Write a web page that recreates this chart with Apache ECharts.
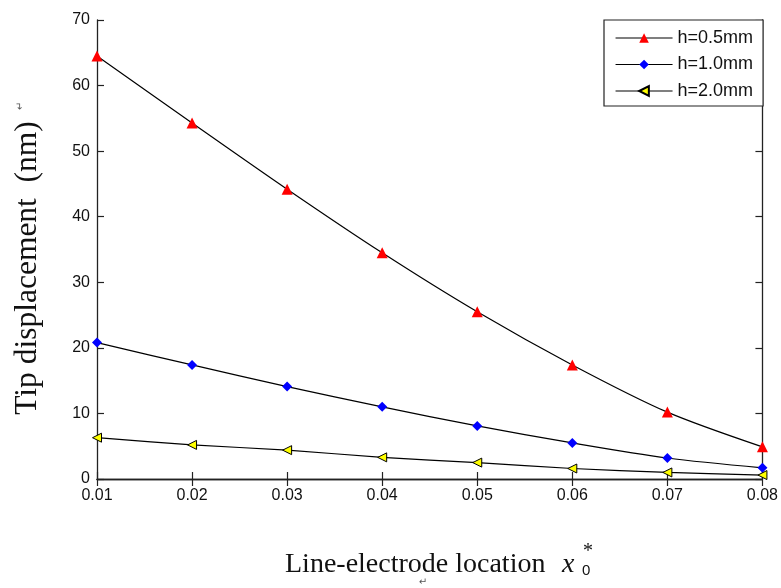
<!DOCTYPE html>
<html><head><meta charset="utf-8">
<script src="https://cdn.jsdelivr.net/npm/echarts@6/dist/echarts.min.js"></script>
<style>html,body{margin:0;padding:0;background:#fff}#c{width:781px;height:588px}</style>
</head><body><div id="c"></div>
<script>
const xValues = [0.01, 0.02, 0.03, 0.04, 0.05, 0.06, 0.07, 0.08];
const seriesNames = ['h=0.5mm', 'h=1.0mm', 'h=2.0mm'];
const h05 = [64.5, 54.3, 44.2, 34.5, 25.5, 17.4, 10.2, 4.9];
const h10 = [20.8, 17.4, 14.1, 11.0, 8.1, 5.5, 3.2, 1.7];
const h20 = [6.3, 5.2, 4.4, 3.3, 2.5, 1.6, 1.0, 0.6];
const yTitle = 'Tip displacement  (nm)';
const xTitle = 'Line-electrode location';

const pairs = arr => xValues.map((x, i) => [x, arr[i]]);
const tickFont = {fontFamily: 'Liberation Sans, Arial', fontSize: 16, color: '#111'};
const axisLine = {show: true, lineStyle: {color: '#222', width: 1.3}};
const tick = {show: true, inside: true, length: 7, lineStyle: {color: '#222', width: 1.2}};

const chart = echarts.init(document.getElementById('c'));
chart.setOption({
  animation: false,
  backgroundColor: '#fff',
  grid: {left: 97, right: 11, top: 20, bottom: 109, containLabel: false},
  xAxis: [{
    type: 'value', min: 0.01, max: 0.08, interval: 0.01,
    axisLine, axisTick: tick, splitLine: {show: false},
    axisLabel: Object.assign({margin: 9, formatter: v => v.toFixed(2)}, tickFont)
  }, {
    type: 'value', position: 'top', min: 0.01, max: 0.08, interval: 0.01,
    axisLine, axisTick: tick, axisLabel: {show: false}, splitLine: {show: false}
  }],
  yAxis: [{
    type: 'value', min: 0, max: 70, interval: 10,
    axisLine, axisTick: tick, splitLine: {show: false},
    axisLabel: Object.assign({margin: 7}, tickFont)
  }, {
    type: 'value', position: 'right', min: 0, max: 70, interval: 10,
    axisLine, axisTick: tick, axisLabel: {show: false}, splitLine: {show: false}
  }],
  legend: {
    orient: 'vertical', left: 604, top: 20,
    padding: [9, 10, 6, 11], itemGap: 8.5,
    borderColor: '#222', borderWidth: 1.2, backgroundColor: '#fff',
    itemWidth: 57, itemHeight: 12,
    lineStyle: {width: 1.1},
    textStyle: {fontFamily: 'Liberation Sans, Arial', fontSize: 18, color: '#111'},
    data: seriesNames
  },
  series: [
    {name: seriesNames[0], type: 'line', data: pairs(h05), smooth: 0.3,
     symbol: 'triangle', symbolSize: 11, lineStyle: {color: '#000', width: 1.2},
     itemStyle: {color: '#ff0000', borderWidth: 0}},
    {name: seriesNames[1], type: 'line', data: pairs(h10), smooth: 0.3,
     symbol: 'diamond', symbolSize: 10, lineStyle: {color: '#000', width: 1.2},
     itemStyle: {color: '#0000ff', borderWidth: 0}},
    {name: seriesNames[2], type: 'line', data: pairs(h20), smooth: 0.3,
     symbol: 'triangle', symbolRotate: 90, symbolSize: 9, lineStyle: {color: '#000', width: 1.2},
     itemStyle: {color: '#ffff00', borderColor: '#000', borderWidth: 1}}
  ],
  graphic: [
    {type: 'text', x: 28, y: 268, rotation: Math.PI / 2, style: {
      text: yTitle, fontFamily: 'Liberation Serif, Times New Roman', fontSize: 31.5, fill: '#111',
      align: 'center', verticalAlign: 'middle'}},
    {type: 'text', x: 20, y: 106, rotation: Math.PI / 2, style: {
      text: '↵', fontFamily: 'DejaVu Sans', fontSize: 10, fill: '#555',
      align: 'center', verticalAlign: 'middle'}},
    {type: 'text', x: 285, y: 565, style: {
      text: xTitle, fontFamily: 'Liberation Serif, Times New Roman', fontSize: 28, fill: '#111',
      align: 'left', verticalAlign: 'middle'}},
    {type: 'text', x: 562, y: 565, style: {
      text: 'x', fontFamily: 'Liberation Serif, Times New Roman', fontStyle: 'italic', fontSize: 28, fill: '#111',
      align: 'left', verticalAlign: 'middle'}},
    {type: 'text', x: 582, y: 571, style: {
      text: '0', fontFamily: 'Liberation Sans, Arial', fontSize: 15, fill: '#111',
      align: 'left', verticalAlign: 'middle'}},
    {type: 'text', x: 583, y: 552, style: {
      text: '*', fontFamily: 'Liberation Serif, Times New Roman', fontSize: 20, fill: '#111',
      align: 'left', verticalAlign: 'middle'}},
    {type: 'text', x: 423, y: 582, style: {
      text: '↵', fontFamily: 'DejaVu Sans', fontSize: 10, fill: '#555',
      align: 'center', verticalAlign: 'middle'}}
  ]
});
</script></body></html>
